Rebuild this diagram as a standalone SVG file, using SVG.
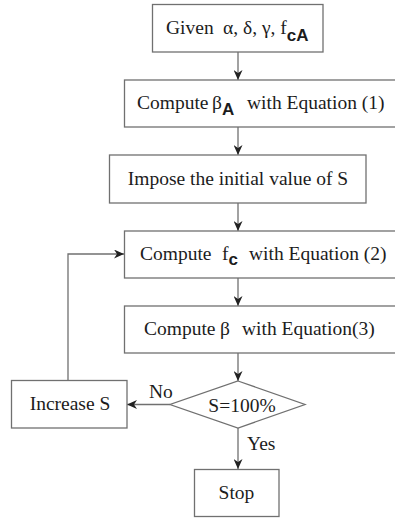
<svg xmlns="http://www.w3.org/2000/svg" width="395" height="518" viewBox="0 0 395 518">
<style>
.box{fill:#fff;stroke:#707070;stroke-width:1.3}
.ln{fill:none;stroke:#707070;stroke-width:1.3}
.t{font-family:"Liberation Serif","Times New Roman",serif;font-size:19.5px;fill:#1c1c1c}
.sub{font-family:"Liberation Sans",Arial,sans-serif;font-weight:bold;font-size:17px}
</style>
<defs>
<marker id="ah" markerUnits="userSpaceOnUse" markerWidth="10" markerHeight="9" refX="10" refY="4.5" orient="auto">
<path d="M0,0 L10,4.5 L0,9 L3,4.5 Z" fill="#222"/>
</marker>
</defs>
<g id="connectors">
<path class="ln" d="M238,52 V80" marker-end="url(#ah)"/>
<path class="ln" d="M238,127 V155" marker-end="url(#ah)"/>
<path class="ln" d="M238,203 V231" marker-end="url(#ah)"/>
<path class="ln" d="M238,278 V306" marker-end="url(#ah)"/>
<path class="ln" d="M238,353 V381" marker-end="url(#ah)"/>
<path class="ln" d="M238,428 V469" marker-end="url(#ah)"/>
<path class="ln" d="M170,404.5 H127" marker-end="url(#ah)"/>
<path class="ln" d="M68,380 V254 H124" marker-end="url(#ah)"/>
<text class="t" x="149" y="398">No</text>
<text class="t" x="247" y="450">Yes</text>
</g>
<g id="n1">
<rect class="box" x="152.5" y="4.5" width="170.5" height="47.5"/>
<text class="t" x="166" y="34">Given<tspan x="223">α, δ, γ, f</tspan><tspan class="sub" dy="7" font-size="19">cA</tspan></text>
</g>
<g id="n2">
<rect class="box" x="124.5" y="80" width="276" height="47"/>
<text class="t" x="137" y="109">Compute<tspan x="212">β</tspan><tspan class="sub" dy="6">A</tspan><tspan x="247" dy="-6">with Equation (1)</tspan></text>
</g>
<g id="n3">
<rect class="box" x="109.5" y="155" width="256.5" height="48"/>
<text class="t" x="238" y="185" text-anchor="middle">Impose the initial value of S</text>
</g>
<g id="n4">
<rect class="box" x="124.5" y="231" width="276" height="47"/>
<text class="t" x="140" y="260">Compute<tspan x="222">f</tspan><tspan class="sub" dy="5">c</tspan><tspan x="249" dy="-5">with Equation (2)</tspan></text>
</g>
<g id="n5">
<rect class="box" x="124.5" y="306" width="276" height="47"/>
<text class="t" x="144" y="335">Compute<tspan x="220">β</tspan><tspan x="242">with Equation(3)</tspan></text>
</g>
<g id="n6">
<polygon class="box" points="238,381 305,404.5 238,428 170,404.5"/>
<text class="t" x="242" y="412" text-anchor="middle">S=100%</text>
</g>
<g id="n7">
<rect class="box" x="11.5" y="380.5" width="115.5" height="47.5"/>
<text class="t" x="70" y="410" text-anchor="middle">Increase S</text>
</g>
<g id="n8">
<rect class="box" x="194.5" y="469.5" width="84.5" height="47"/>
<text class="t" x="236.5" y="499" text-anchor="middle">Stop</text>
</g>
</svg>
